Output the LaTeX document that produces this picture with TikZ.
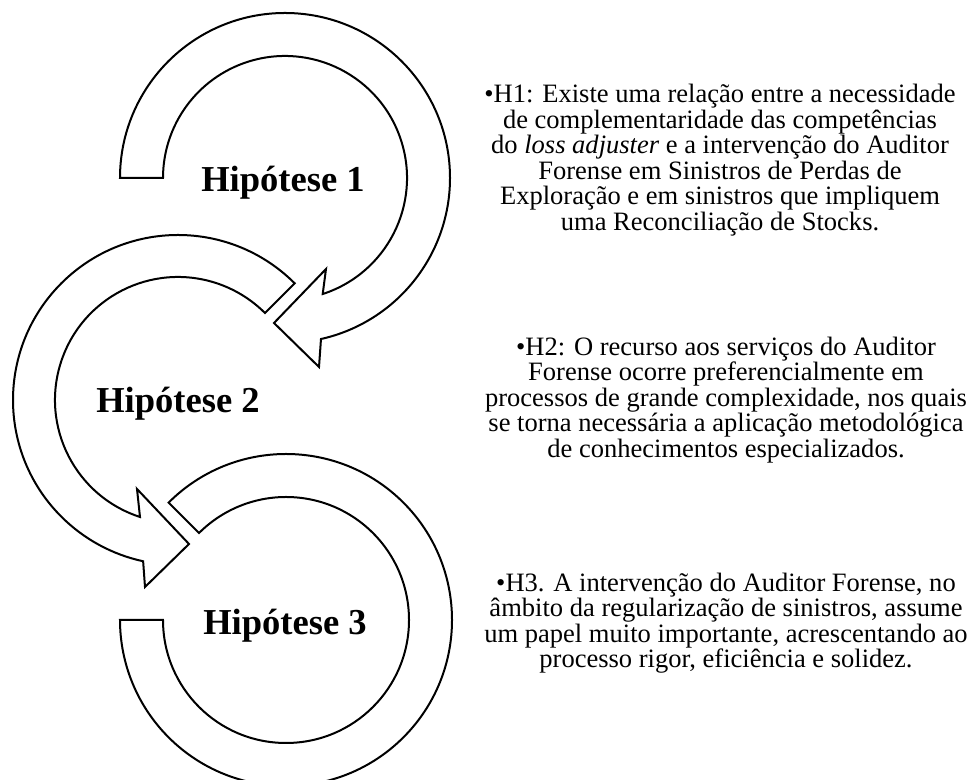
\documentclass[tikz,border=0pt]{standalone}
\usepackage{fontspec}
\setmainfont{Liberation Serif}
\begin{document}
\begin{tikzpicture}[x=0.75pt,y=0.75pt]
      \tikzset{ring/.style={draw=black,line width=1.5pt,fill=white,line join=miter},
               hyp/.style={font=\fontsize{27.4}{32}\selectfont\bfseries,anchor=base},
               desc/.style={align=center,font=\fontsize{19.9}{19.1}\selectfont}}
      \useasboundingbox (0,0) rectangle (970,780);
      \coordinate (c1) at (285,602);
      \coordinate (c2) at (178,380);
      \coordinate (c3) at (286,160);
      % first arrow
      \draw[ring] ([shift={(180:165)}]c1) arc[start angle=180,end angle=-77.4,radius=165]
            -- (319,413) -- (274,457) -- (326,511)
            -- ([shift={(-72:122)}]c1) arc[start angle=-72,end angle=180,radius=122] -- cycle;
      % second arrow
      \draw[ring] ([shift={(45:165)}]c2) arc[start angle=45,end angle=257.8,radius=165]
            -- (145,193) -- (189,236) -- (137,291)
            -- ([shift={(252:123)}]c2) arc[start angle=252,end angle=45,radius=123] -- cycle;
      % third arrow
      \draw[ring] ([shift={(135:166)}]c3) arc[start angle=135,end angle=-180,radius=166]
            -- ([shift={(-180:123)}]c3) arc[start angle=-180,end angle=135,radius=123] -- cycle;
      \begin{scope}[every node/.style={hyp}]
        \node (h1) at (283,588) {Hipótese 1};
        \node (h2) at (178,367) {Hipótese 2};
        \node (h3) at (285,145) {Hipótese 3};
      \end{scope}
      \begin{scope}[every node/.style={desc}]
        \node (t1) at (720,620) {\textbullet H1: Existe uma relação entre a necessidade\\
          de complementaridade das competências\\
          do \textit{loss adjuster} e a intervenção do Auditor\\
          Forense em Sinistros de Perdas de\\
          Exploração e em sinistros que impliquem\\
          uma Reconciliação de Stocks.};
        \node (t2) at (726,380) {\textbullet H2: O recurso aos serviços do Auditor\\
          Forense ocorre preferencialmente em\\
          processos de grande complexidade, nos quais\\
          se torna necessária a aplicação metodológica\\
          de conhecimentos especializados.};
        \node (t3) at (726,157) {\textbullet H3. A intervenção do Auditor Forense, no\\
          âmbito da regularização de sinistros, assume\\
          um papel muito importante, acrescentando ao\\
          processo rigor, eficiência e solidez.};
      \end{scope}
    \end{tikzpicture}
\end{document}
